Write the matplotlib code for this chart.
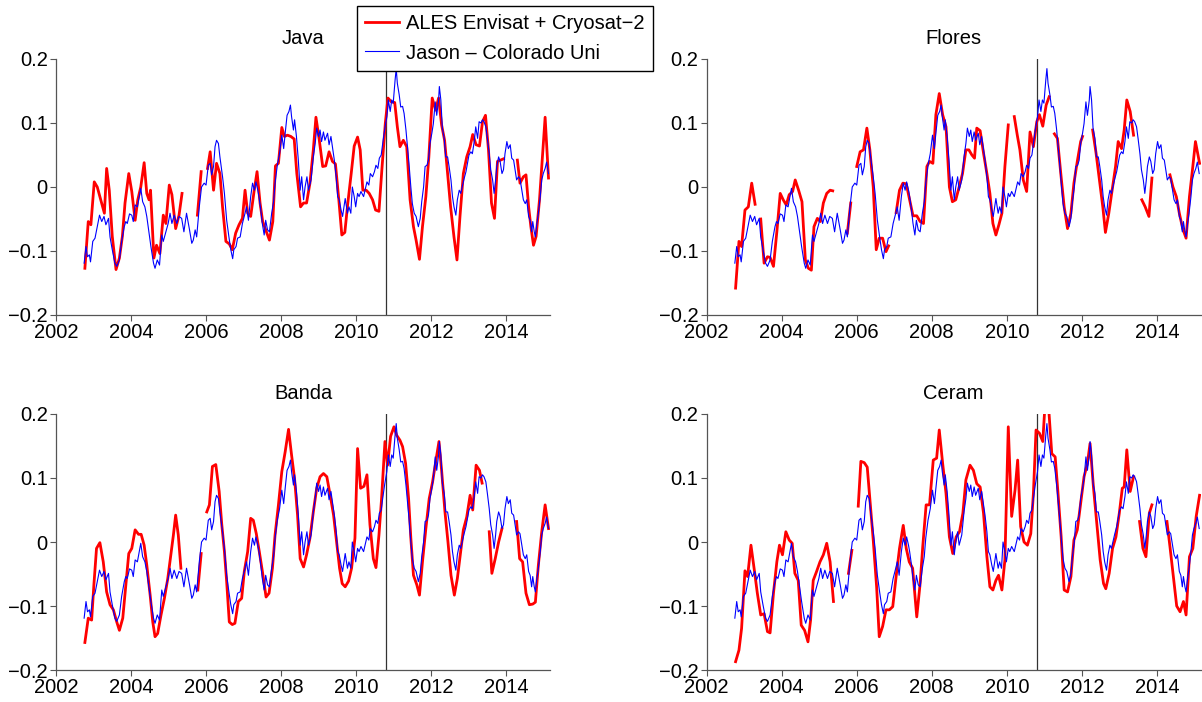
import numpy as np
import matplotlib
matplotlib.use("Agg")
import matplotlib.pyplot as plt

plt.rcParams['font.family'] = ['Liberation Sans', 'DejaVu Sans']
plt.rcParams['axes.unicode_minus'] = True

nan = float('nan')

panel_names = ["Java", "Flores", "Banda", "Ceram"]
legend_labels = ["ALES Envisat + Cryosat\u22122", "Jason \u2013 Colorado Uni"]
xticks = [2002, 2004, 2006, 2008, 2010, 2012, 2014]
yticks = [-0.2, -0.1, 0, 0.1, 0.2]
yticklabels = ["\u22120.2", "\u22120.1", "0", "0.1", "0.2"]
cryosat_start = 2010.8

# Jason - Colorado Uni (same regional series in every panel)
jason_t = [2002.75, 2002.80, 2002.84, 2002.89, 2002.92, 2002.98, 2003.04, 2003.10, 2003.16, 2003.22,
           2003.28, 2003.33, 2003.40, 2003.44, 2003.50, 2003.57, 2003.62, 2003.69, 2003.75, 2003.82,
           2003.86, 2003.90, 2003.96, 2004.02, 2004.06, 2004.11, 2004.17, 2004.22, 2004.26, 2004.31,
           2004.37, 2004.42, 2004.48, 2004.53, 2004.60, 2004.64, 2004.70, 2004.76, 2004.82, 2004.86,
           2004.93, 2004.99, 2005.04, 2005.09, 2005.15, 2005.22, 2005.28, 2005.35, 2005.41, 2005.48,
           2005.56, 2005.62, 2005.66, 2005.71, 2005.75, 2005.82, 2005.88, 2005.95, 2006.00, 2006.06,
           2006.11, 2006.15, 2006.20, 2006.24, 2006.28, 2006.33, 2006.37, 2006.44, 2006.49, 2006.55,
           2006.61, 2006.66, 2006.71, 2006.74, 2006.80, 2006.84, 2006.91, 2006.97, 2007.04, 2007.08,
           2007.13, 2007.19, 2007.24, 2007.29, 2007.33, 2007.38, 2007.41, 2007.46, 2007.50, 2007.55,
           2007.59, 2007.64, 2007.69, 2007.75, 2007.80, 2007.84, 2007.90, 2007.96, 2008.02, 2008.07,
           2008.11, 2008.16, 2008.21, 2008.25, 2008.28, 2008.33, 2008.36, 2008.41, 2008.46, 2008.51,
           2008.55, 2008.60, 2008.64, 2008.69, 2008.73, 2008.80, 2008.86, 2008.91, 2008.95, 2009.00,
           2009.04, 2009.08, 2009.13, 2009.17, 2009.24, 2009.28, 2009.33, 2009.38, 2009.42, 2009.47,
           2009.51, 2009.55, 2009.60, 2009.64, 2009.71, 2009.77, 2009.81, 2009.86, 2009.90, 2009.95,
           2009.99, 2010.04, 2010.08, 2010.13, 2010.20, 2010.24, 2010.29, 2010.34, 2010.38, 2010.44,
           2010.49, 2010.53, 2010.58, 2010.62, 2010.67, 2010.71, 2010.76, 2010.82, 2010.86, 2010.91,
           2010.95, 2010.99, 2011.04, 2011.07, 2011.10, 2011.15, 2011.19, 2011.24, 2011.28, 2011.33,
           2011.37, 2011.41, 2011.46, 2011.50, 2011.55, 2011.60, 2011.66, 2011.71, 2011.75, 2011.80,
           2011.84, 2011.89, 2011.93, 2011.97, 2012.02, 2012.06, 2012.11, 2012.15, 2012.20, 2012.22,
           2012.26, 2012.30, 2012.35, 2012.39, 2012.44, 2012.48, 2012.53, 2012.57, 2012.61, 2012.66,
           2012.70, 2012.75, 2012.79, 2012.84, 2012.88, 2012.93, 2012.97, 2013.01, 2013.06, 2013.10,
           2013.15, 2013.19, 2013.24, 2013.28, 2013.33, 2013.37, 2013.41, 2013.46, 2013.50, 2013.55,
           2013.59, 2013.64, 2013.68, 2013.72, 2013.75, 2013.80, 2013.84, 2013.89, 2013.93, 2013.97,
           2014.02, 2014.06, 2014.11, 2014.15, 2014.20, 2014.24, 2014.28, 2014.33, 2014.37, 2014.42,
           2014.46, 2014.51, 2014.55, 2014.60, 2014.64, 2014.68, 2014.71, 2014.75, 2014.78, 2014.82,
           2014.86, 2014.91, 2014.95, 2014.99, 2015.04, 2015.08, 2015.13]
jason_v = [-0.119, -0.093, -0.109, -0.106, -0.117, -0.085, -0.080, -0.062, -0.044, -0.054,
           -0.046, -0.059, -0.049, -0.078, -0.098, -0.119, -0.124, -0.114, -0.085, -0.062,
           -0.054, -0.057, -0.042, -0.044, -0.054, -0.028, -0.031, -0.015, -0.002, -0.023,
           -0.031, -0.046, -0.072, -0.093, -0.119, -0.127, -0.114, -0.122, -0.075, -0.085,
           -0.070, -0.057, -0.041, -0.057, -0.044, -0.057, -0.046, -0.049, -0.070, -0.041,
           -0.067, -0.088, -0.083, -0.067, -0.078, -0.031, 0.000, 0.006, 0.003, 0.034,
           0.037, 0.019, 0.032, 0.063, 0.073, 0.068, 0.047, 0.016, -0.010, -0.052,
           -0.078, -0.098, -0.112, -0.098, -0.093, -0.080, -0.078, -0.057, -0.041, -0.031,
           -0.052, -0.015, 0.006, -0.005, 0.008, -0.005, -0.015, -0.036, -0.057, -0.075,
           -0.052, -0.067, -0.070, -0.041, -0.023, 0.006, 0.034, 0.052, 0.081, 0.060,
           0.084, 0.112, 0.118, 0.128, 0.110, 0.089, 0.105, 0.079, 0.042, -0.005,
           0.016, -0.020, 0.000, 0.016, -0.005, 0.011, 0.047, 0.068, 0.092, 0.079,
           0.089, 0.071, 0.086, 0.073, 0.084, 0.066, 0.079, 0.058, 0.042, 0.016,
           -0.015, -0.020, -0.036, -0.046, -0.018, -0.041, -0.031, -0.041, 0.000, -0.015,
           -0.031, -0.010, -0.015, -0.007, -0.015, -0.005, 0.008, 0.003, 0.021, 0.016,
           0.024, 0.034, 0.029, 0.045, 0.050, 0.068, 0.089, 0.110, 0.136, 0.118,
           0.136, 0.131, 0.167, 0.185, 0.162, 0.144, 0.125, 0.126, 0.115, 0.089,
           0.063, 0.037, 0.000, -0.026, -0.041, -0.046, -0.062, -0.049, -0.023, 0.000,
           0.032, 0.034, 0.042, 0.068, 0.084, 0.099, 0.133, 0.112, 0.136, 0.157,
           0.136, 0.092, 0.076, 0.047, 0.047, 0.032, 0.011, -0.015, -0.031, -0.044,
           -0.020, -0.005, -0.010, 0.003, 0.013, 0.024, 0.037, 0.050, 0.055, 0.052,
           0.071, 0.094, 0.076, 0.102, 0.100, 0.105, 0.102, 0.094, 0.076, 0.052,
           0.027, 0.011, -0.010, 0.011, 0.032, 0.047, 0.040, 0.021, 0.027, 0.052,
           0.071, 0.060, 0.066, 0.045, 0.042, 0.027, 0.011, 0.016, 0.013, -0.005,
           -0.020, -0.026, -0.020, -0.046, -0.052, -0.070, -0.054, -0.070, -0.078, -0.057,
           -0.041, -0.015, 0.011, 0.021, 0.029, 0.039, 0.021]

# ALES Envisat + Cryosat-2 (NaN marks gaps)
java_t = [2002.77, 2002.86, 2002.93, 2003.02, 2003.10, 2003.17, 2003.29, 2003.35, 2003.42, 2003.50,
          2003.60, 2003.69, 2003.77, 2003.84, 2003.94, 2004.02, 2004.11, 2004.18, 2004.26, 2004.35,
          2004.42, 2004.48, 2004.52, 2004.61, 2004.68, 2004.77, 2004.86, 2004.93, 2005.02, 2005.09,
          2005.19, 2005.28, 2005.36, 2005.55, 2005.77, 2005.87, 2005.95, 2006.04, 2006.11, 2006.20,
          2006.28, 2006.37, 2006.44, 2006.53, 2006.62, 2006.70, 2006.79, 2006.88, 2006.97, 2007.04,
          2007.11, 2007.19, 2007.28, 2007.36, 2007.44, 2007.51, 2007.59, 2007.69, 2007.78, 2007.85,
          2007.93, 2008.02, 2008.09, 2008.17, 2008.26, 2008.35, 2008.42, 2008.52, 2008.60, 2008.68,
          2008.77, 2008.86, 2008.93, 2009.02, 2009.11, 2009.19, 2009.28, 2009.37, 2009.45, 2009.54,
          2009.62, 2009.70, 2009.78, 2009.87, 2009.95, 2010.04, 2010.11, 2010.18, 2010.27, 2010.35,
          2010.44, 2010.52, 2010.61, 2010.69, 2010.78, 2010.85, 2010.94, 2011.03, 2011.10, 2011.17,
          2011.26, 2011.35, 2011.44, 2011.53, 2011.60, 2011.69, 2011.77, 2011.86, 2011.94, 2012.03,
          2012.12, 2012.20, 2012.28, 2012.36, 2012.44, 2012.52, 2012.61, 2012.69, 2012.77, 2012.86,
          2012.95, 2013.04, 2013.11, 2013.20, 2013.29, 2013.37, 2013.45, 2013.53, 2013.61, 2013.69,
          2013.77, 2013.85, 2013.93, 2014.10, 2014.30, 2014.37, 2014.46, 2014.53, 2014.60, 2014.66,
          2014.73, 2014.80, 2014.89, 2014.98, 2015.04, 2015.13]
java_v = [-0.127, -0.054, -0.059, 0.008, 0.000, -0.015, -0.041, 0.029, -0.005, -0.077,
          -0.129, -0.111, -0.077, -0.025, 0.021, -0.007, -0.052, -0.020, 0.000, 0.038,
          -0.010, -0.020, -0.005, -0.111, -0.091, -0.104, -0.044, -0.057, 0.003, -0.012,
          -0.065, -0.044, -0.010, nan, -0.044, 0.024, nan, 0.029, 0.055, -0.005,
          0.037, 0.021, -0.031, -0.085, -0.089, -0.098, -0.072, -0.059, -0.049, -0.005,
          -0.041, -0.046, -0.007, 0.024, -0.025, -0.054, -0.067, -0.083, -0.054, 0.033,
          0.037, 0.093, 0.079, 0.081, 0.079, 0.075, 0.021, -0.031, -0.025, -0.025,
          0.006, 0.058, 0.109, 0.073, 0.032, 0.033, 0.055, 0.040, 0.036, -0.020,
          -0.075, -0.071, -0.025, 0.021, 0.064, 0.078, 0.058, -0.005, -0.005, -0.010,
          -0.020, -0.036, -0.038, 0.029, 0.100, 0.139, 0.133, 0.132, 0.094, 0.063,
          0.073, 0.063, -0.020, -0.062, -0.083, -0.113, -0.062, -0.015, 0.047, 0.139,
          0.120, 0.139, 0.097, 0.073, 0.021, -0.031, -0.078, -0.114, -0.046, 0.021,
          0.047, 0.063, 0.082, 0.066, 0.064, 0.102, 0.112, 0.058, -0.025, -0.049,
          0.040, 0.042, 0.044, nan, 0.042, 0.006, 0.016, 0.019, -0.031, -0.062,
          -0.091, -0.077, -0.020, 0.058, 0.109, 0.014]

flores_t = [2002.77, 2002.86, 2002.93, 2003.02, 2003.11, 2003.20, 2003.29, 2003.36, 2003.44, 2003.53,
            2003.62, 2003.69, 2003.78, 2003.87, 2003.96, 2004.04, 2004.12, 2004.20, 2004.29, 2004.36,
            2004.45, 2004.54, 2004.63, 2004.71, 2004.79, 2004.86, 2004.95, 2005.03, 2005.11, 2005.20,
            2005.29, 2005.36, 2005.55, 2005.75, 2005.84, 2005.92, 2006.00, 2006.09, 2006.18, 2006.27,
            2006.35, 2006.44, 2006.52, 2006.60, 2006.69, 2006.78, 2006.85, 2006.95, 2007.05, 2007.14,
            2007.23, 2007.32, 2007.41, 2007.50, 2007.60, 2007.69, 2007.78, 2007.87, 2007.94, 2008.03,
            2008.11, 2008.20, 2008.29, 2008.38, 2008.47, 2008.55, 2008.64, 2008.73, 2008.82, 2008.91,
            2008.99, 2009.07, 2009.14, 2009.20, 2009.29, 2009.38, 2009.47, 2009.55, 2009.63, 2009.71,
            2009.79, 2009.87, 2009.95, 2010.04, 2010.12, 2010.20, 2010.28, 2010.35, 2010.44, 2010.53,
            2010.62, 2010.71, 2010.80, 2010.87, 2010.96, 2011.05, 2011.13, 2011.20, 2011.27, 2011.35,
            2011.44, 2011.53, 2011.62, 2011.71, 2011.79, 2011.88, 2011.97, 2012.02, 2012.15, 2012.29,
            2012.38, 2012.47, 2012.56, 2012.63, 2012.72, 2012.81, 2012.90, 2012.97, 2013.06, 2013.13,
            2013.20, 2013.29, 2013.38, 2013.50, 2013.60, 2013.69, 2013.79, 2013.87, 2014.10, 2014.35,
            2014.43, 2014.52, 2014.60, 2014.69, 2014.78, 2014.87, 2014.96, 2015.03, 2015.14]
flores_v = [-0.158, -0.085, -0.093, -0.036, -0.031, 0.006, -0.027, nan, -0.050, -0.119,
            -0.109, -0.110, -0.124, -0.070, -0.010, -0.020, -0.028, -0.012, -0.007, 0.011,
            -0.005, -0.023, -0.114, -0.127, -0.130, -0.062, -0.049, -0.054, -0.025, -0.010,
            -0.005, -0.006, nan, -0.072, -0.025, nan, 0.032, 0.055, 0.058, 0.092,
            0.058, 0.000, -0.098, -0.080, -0.080, -0.101, -0.092, nan, -0.040, -0.005,
            0.006, 0.005, -0.020, -0.045, -0.045, -0.054, -0.057, 0.032, 0.040, 0.037,
            0.113, 0.146, 0.113, 0.094, 0.000, -0.023, -0.020, 0.000, 0.021, 0.058,
            0.058, 0.050, 0.045, 0.092, 0.088, 0.053, 0.021, -0.010, -0.057, -0.075,
            -0.059, -0.041, 0.032, 0.097, nan, 0.110, 0.081, 0.058, 0.011, -0.007,
            0.086, 0.063, 0.102, 0.113, 0.095, 0.128, 0.141, nan, 0.083, 0.076,
            0.021, -0.031, -0.065, -0.041, 0.006, 0.040, 0.071, 0.079, nan, 0.089,
            0.053, 0.011, -0.031, -0.071, -0.041, -0.005, 0.032, 0.071, 0.060, 0.089,
            0.136, 0.118, 0.081, nan, -0.020, -0.031, -0.046, 0.014, nan, 0.019,
            0.000, -0.015, -0.041, -0.065, -0.080, -0.015, 0.032, 0.071, 0.037]

banda_t = [2002.77, 2002.86, 2002.95, 2003.01, 2003.08, 2003.17, 2003.26, 2003.35, 2003.44, 2003.53,
           2003.62, 2003.69, 2003.78, 2003.87, 2003.94, 2004.02, 2004.11, 2004.20, 2004.27, 2004.35,
           2004.42, 2004.51, 2004.58, 2004.64, 2004.71, 2004.80, 2004.89, 2004.98, 2005.06, 2005.13,
           2005.19, 2005.26, 2005.33, 2005.55, 2005.78, 2005.87, 2005.95, 2006.02, 2006.09, 2006.17,
           2006.26, 2006.35, 2006.42, 2006.49, 2006.55, 2006.62, 2006.70, 2006.77, 2006.86, 2006.95,
           2007.02, 2007.11, 2007.19, 2007.26, 2007.34, 2007.42, 2007.51, 2007.60, 2007.68, 2007.77,
           2007.84, 2007.93, 2008.02, 2008.11, 2008.20, 2008.28, 2008.36, 2008.44, 2008.51, 2008.60,
           2008.68, 2008.77, 2008.86, 2008.95, 2009.04, 2009.13, 2009.22, 2009.31, 2009.40, 2009.47,
           2009.56, 2009.63, 2009.71, 2009.80, 2009.88, 2009.97, 2010.04, 2010.12, 2010.21, 2010.29,
           2010.37, 2010.46, 2010.53, 2010.61, 2010.68, 2010.77, 2010.84, 2010.92, 2011.01, 2011.08,
           2011.17, 2011.24, 2011.32, 2011.40, 2011.46, 2011.53, 2011.62, 2011.69, 2011.77, 2011.86,
           2011.95, 2012.04, 2012.13, 2012.21, 2012.28, 2012.37, 2012.45, 2012.53, 2012.62, 2012.70,
           2012.79, 2012.86, 2012.95, 2013.04, 2013.11, 2013.20, 2013.29, 2013.36, 2013.45, 2013.55,
           2013.62, 2013.71, 2013.80, 2013.89, 2014.10, 2014.28, 2014.36, 2014.44, 2014.53, 2014.62,
           2014.71, 2014.78, 2014.86, 2014.95, 2015.04, 2015.13]
banda_v = [-0.157, -0.119, -0.122, -0.067, -0.010, -0.001, -0.031, -0.078, -0.098, -0.106,
           -0.125, -0.138, -0.119, -0.062, -0.018, -0.010, 0.019, 0.012, 0.012, -0.005,
           -0.036, -0.083, -0.125, -0.148, -0.143, -0.114, -0.088, -0.057, -0.020, 0.011,
           0.042, 0.011, -0.041, nan, -0.075, -0.018, nan, 0.047, 0.058, 0.118,
           0.121, 0.079, 0.027, -0.015, -0.062, -0.125, -0.129, -0.127, -0.093, -0.088,
           -0.046, -0.015, 0.037, 0.034, 0.013, -0.015, -0.049, -0.086, -0.080, -0.041,
           0.011, 0.058, 0.110, 0.141, 0.176, 0.136, 0.099, 0.042, -0.026, -0.039,
           -0.020, 0.006, 0.047, 0.084, 0.102, 0.107, 0.102, 0.073, 0.042, 0.006,
           -0.041, -0.065, -0.070, -0.061, -0.041, 0.006, 0.146, 0.084, 0.087, 0.105,
           0.027, -0.026, -0.040, 0.011, 0.068, 0.157, 0.120, 0.165, 0.180, 0.167,
           0.159, 0.149, 0.123, 0.068, 0.006, -0.052, -0.067, -0.083, -0.031, 0.021,
           0.068, 0.094, 0.128, 0.157, 0.112, 0.047, 0.000, -0.052, -0.083, -0.057,
           -0.015, 0.019, 0.039, 0.073, 0.050, 0.120, 0.112, 0.092, nan, 0.016,
           -0.049, -0.026, 0.000, 0.021, nan, 0.032, -0.026, -0.031, -0.080, -0.098,
           -0.097, -0.094, -0.036, 0.016, 0.058, 0.021]

ceram_t = [2002.77, 2002.86, 2002.93, 2003.02, 2003.09, 2003.18, 2003.27, 2003.35, 2003.44, 2003.53,
           2003.62, 2003.69, 2003.78, 2003.87, 2003.94, 2004.02, 2004.11, 2004.20, 2004.28, 2004.35,
           2004.44, 2004.52, 2004.61, 2004.70, 2004.77, 2004.84, 2004.93, 2005.02, 2005.11, 2005.20,
           2005.29, 2005.38, 2005.58, 2005.78, 2005.87, 2005.95, 2006.04, 2006.11, 2006.20, 2006.28,
           2006.36, 2006.44, 2006.53, 2006.60, 2006.69, 2006.78, 2006.87, 2006.96, 2007.05, 2007.14,
           2007.24, 2007.32, 2007.40, 2007.49, 2007.60, 2007.69, 2007.76, 2007.85, 2007.94, 2008.04,
           2008.13, 2008.20, 2008.29, 2008.38, 2008.47, 2008.56, 2008.65, 2008.74, 2008.83, 2008.91,
           2009.02, 2009.11, 2009.20, 2009.29, 2009.38, 2009.47, 2009.55, 2009.63, 2009.71, 2009.78,
           2009.87, 2009.95, 2010.04, 2010.13, 2010.22, 2010.29, 2010.37, 2010.46, 2010.55, 2010.64,
           2010.71, 2010.78, 2010.87, 2010.96, 2011.02, 2011.11, 2011.20, 2011.29, 2011.36, 2011.45,
           2011.53, 2011.62, 2011.71, 2011.79, 2011.88, 2011.97, 2012.06, 2012.15, 2012.22, 2012.31,
           2012.40, 2012.49, 2012.58, 2012.64, 2012.73, 2012.82, 2012.91, 2013.00, 2013.08, 2013.13,
           2013.20, 2013.29, 2013.38, 2013.46, 2013.54, 2013.63, 2013.71, 2013.80, 2013.87, 2014.10,
           2014.27, 2014.35, 2014.44, 2014.53, 2014.62, 2014.71, 2014.78, 2014.87, 2014.96, 2015.05,
           2015.14]
ceram_v = [-0.187, -0.169, -0.135, -0.045, -0.054, -0.005, -0.044, -0.080, -0.114, -0.112,
           -0.140, -0.142, -0.080, -0.031, -0.005, -0.020, 0.016, 0.003, -0.002, -0.049,
           -0.060, -0.130, -0.138, -0.156, -0.122, -0.060, -0.046, -0.031, -0.020, -0.002,
           -0.031, -0.093, nan, -0.049, -0.013, nan, 0.056, 0.126, 0.124, 0.117,
           0.060, 0.003, -0.070, -0.148, -0.132, -0.106, -0.106, -0.101, -0.054, -0.010,
           0.026, -0.010, -0.031, -0.041, -0.117, -0.065, -0.007, 0.058, 0.058, 0.128,
           0.131, 0.175, 0.123, 0.076, 0.008, -0.018, 0.008, 0.016, 0.045, 0.097,
           0.120, 0.112, 0.091, 0.086, 0.045, -0.023, -0.070, -0.075, -0.060, -0.052,
           -0.075, -0.028, 0.180, 0.040, 0.081, 0.128, 0.024, 0.000, -0.005, 0.013,
           0.076, 0.175, 0.170, 0.157, 0.215, 0.215, 0.138, 0.133, 0.081, 0.008,
           -0.075, -0.078, -0.054, 0.003, 0.019, 0.060, 0.102, 0.123, 0.154, 0.086,
           0.029, -0.028, -0.065, -0.073, -0.049, -0.010, 0.008, 0.045, 0.084, 0.086,
           0.144, 0.079, 0.102, nan, 0.032, -0.010, -0.023, 0.045, 0.058, nan,
           0.032, -0.007, -0.054, -0.100, -0.109, -0.093, -0.114, -0.023, -0.010, 0.040,
           0.073]

ales_t = [java_t, flores_t, banda_t, ceram_t]
ales_v = [java_v, flores_v, banda_v, ceram_v]

W, H = 1202, 702
fig = plt.figure(figsize=(W / 100, H / 100), dpi=100)

ax_w = 494 / W
ax_h = 256 / H
lefts = [56 / W, 706.7 / W]
bottoms = [1 - 315 / H, 1 - 670 / H]
positions = [(lefts[0], bottoms[0]), (lefts[1], bottoms[0]),
             (lefts[0], bottoms[1]), (lefts[1], bottoms[1])]

spine_col = '#555555'
fs = 14.5
handles = None
for i, name in enumerate(panel_names):
    x0, y0 = positions[i]
    ax = fig.add_axes([x0, y0, ax_w, ax_h])
    hr, = ax.plot(np.array(ales_t[i], float), np.array(ales_v[i], float),
                  color='#ff0000', lw=2.0, zorder=3, solid_joinstyle='round')
    hb, = ax.plot(jason_t, jason_v, color='#0000ff', lw=0.8, zorder=4)
    ax.axvline(cryosat_start, color='#333333', lw=0.9, zorder=2)
    handles = [hr, hb]
    ax.set_xlim(2002, 2015.17)
    ax.set_ylim(-0.2, 0.2)
    ax.set_xticks(xticks)
    ax.set_yticks(yticks)
    ax.set_yticklabels(yticklabels)
    for s in ['top', 'right']:
        ax.spines[s].set_visible(False)
    for s in ['left', 'bottom']:
        ax.spines[s].set_color(spine_col)
        ax.spines[s].set_linewidth(0.9)
    ax.tick_params(direction='out', length=4, width=0.8, color=spine_col,
                   labelsize=fs, pad=2, labelcolor='black')
    ax.set_title(name, fontsize=fs, pad=11)

leg = fig.legend(handles, legend_labels, loc='upper left',
                 bbox_to_anchor=(357 / W, 1 - 6 / H), borderaxespad=0,
                 fontsize=fs, frameon=True, fancybox=False, framealpha=1,
                 edgecolor='black', handlelength=1.65, handletextpad=0.35,
                 labelspacing=0.5, borderpad=0.42)
leg.get_frame().set_linewidth(1.0)
leg.set_zorder(10)

fig.savefig('out.png', dpi=100)
